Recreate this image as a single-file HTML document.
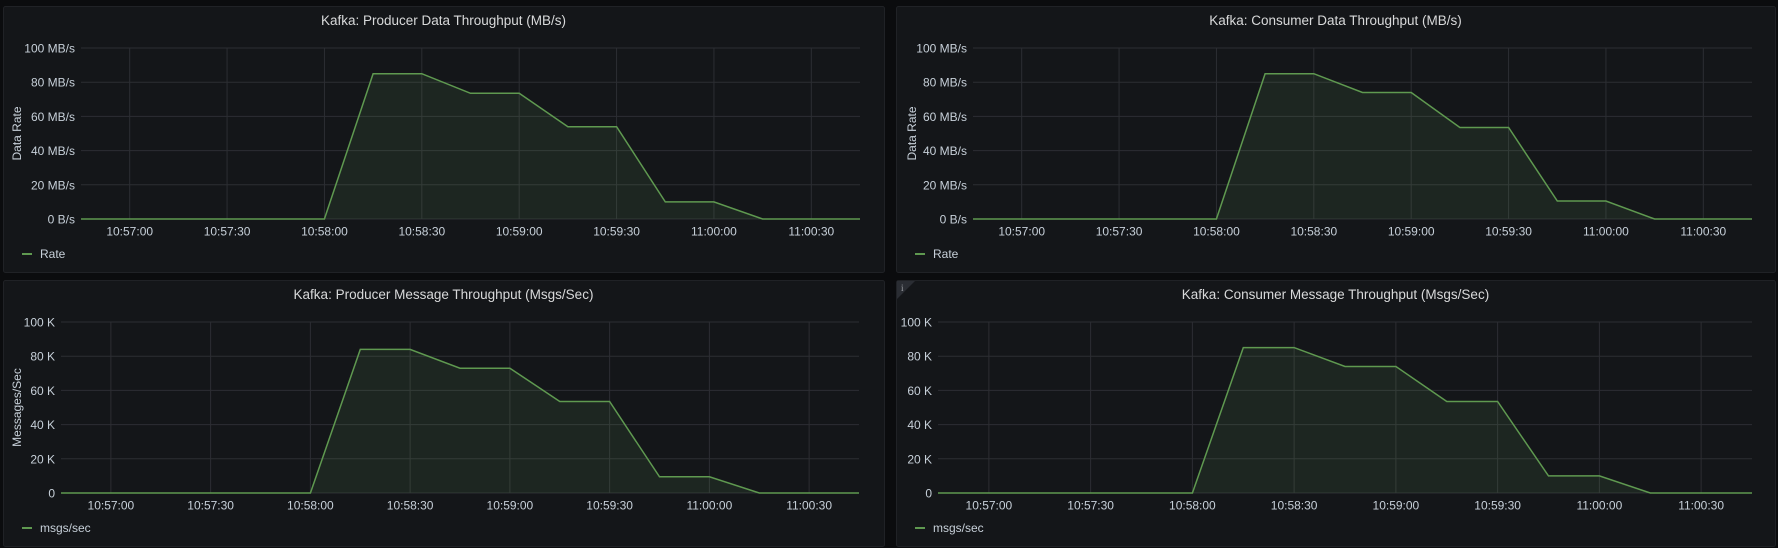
<!DOCTYPE html>
<html><head><meta charset="utf-8">
<style>
html,body{margin:0;padding:0;background:#0b0c0e;width:1778px;height:548px;overflow:hidden;font-family:"Liberation Sans",sans-serif;}
svg{position:absolute;left:0;top:0}
</style></head>
<body>
<svg id="root" width="1778" height="548"></svg>
<script>
const timeTicks = ["10:57:00","10:57:30","10:58:00","10:58:30","10:59:00","10:59:30","11:00:00","11:00:30"];
const pointSeconds = [0,15,30,45,60,75,90,105,120,135,150,165,180,195,210,225,240];
const producerData = [0,0,0,0,0,0,85,85,73.5,73.5,54,54,10,10,0,0,0];
const consumerData = [0,0,0,0,0,0,85,85,74,74,53.5,53.5,10.5,10.5,0,0,0];
const producerMsgs = [0,0,0,0,0,0,84,84,73,73,53.5,53.5,9.5,9.5,0,0,0];
const consumerMsgs = [0,0,0,0,0,0,85,85,74,74,53.5,53.5,10,10,0,0,0];
const mbTicks = ["0 B/s","20 MB/s","40 MB/s","60 MB/s","80 MB/s","100 MB/s"];
const kTicks = ["0","20 K","40 K","60 K","80 K","100 K"];
const yMax = 100;
const tickFirstSec = 15, tickStepSec = 30, domainSec = 240;

const panels = [
 {name:"producer-data-panel",title:"Kafka: Producer Data Throughput (MB/s)",px:3,py:6,pw:881,ph:266,l:81,r:860,t:48,b:219,ylab:"Data Rate",ylx:17,yt:mbTicks,vals:producerData,leg:"Rate",info:false},
 {name:"consumer-data-panel",title:"Kafka: Consumer Data Throughput (MB/s)",px:896,py:6,pw:879,ph:266,l:973,r:1752,t:48,b:219,ylab:"Data Rate",ylx:912,yt:mbTicks,vals:consumerData,leg:"Rate",info:false},
 {name:"producer-message-panel",title:"Kafka: Producer Message Throughput (Msgs/Sec)",px:3,py:280,pw:881,ph:266,l:61,r:859,t:322,b:493,ylab:"Messages/Sec",ylx:17,yt:kTicks,vals:producerMsgs,leg:"msgs/sec",info:false},
 {name:"consumer-message-panel",title:"Kafka: Consumer Message Throughput (Msgs/Sec)",px:896,py:280,pw:879,ph:266,l:938,r:1752,t:322,b:493,ylab:null,yt:kTicks,vals:consumerMsgs,leg:"msgs/sec",info:true}
];
const NS="http://www.w3.org/2000/svg";
const root=document.getElementById('root');
function mk(tag,attrs,parent,text){const e=document.createElementNS(NS,tag);for(const k in attrs)e.setAttribute(k,attrs[k]);if(text!==undefined)e.textContent=text;parent.appendChild(e);return e;}
panels.forEach(p=>{
 const g=mk('g',{},root);
 
 
 mk('rect',{x:p.px+0.5,y:p.py+0.5,width:p.pw,height:p.ph,rx:2,fill:'#141619',stroke:'#202226'},g);
 const ti=mk('text',{x:p.px+p.pw/2,y:p.py+19,'text-anchor':'middle',fill:'#d8d9da','font-size':'13.5'},g,p.title);
 
 
 if(p.info){const c=mk('path',{d:`M${p.px+1} ${p.py+1} h18 l-18 18 z`,fill:'#2a2d33'},g);mk('text',{x:p.px+5,y:p.py+11,fill:'#9fa1a6','font-size':'9','font-family':'Liberation Serif'},g,'i');}
 const xs=s=>p.l+(p.r-p.l)*s/domainSec;
 const ys=v=>p.b-(p.b-p.t)*v/yMax;
 p.yt.forEach((lab,i)=>{const v=i*20,y=ys(v);
  const gl=mk('line',{x1:p.l,x2:p.r,y1:y,y2:y,stroke:'#2c2e33','stroke-width':1},g);
  
  
  const tl=mk('text',{x:p.l-6,y:y+4.5,'text-anchor':'end',fill:'#c7d0d9','font-size':'12'},g,lab);
  
  });
 timeTicks.forEach((lab,i)=>{const x=xs(tickFirstSec+i*tickStepSec);
  const gl=mk('line',{x1:x,x2:x,y1:p.t,y2:p.b,stroke:'#2c2e33','stroke-width':1},g);
  
  
  const tl=mk('text',{x:x,y:p.b+16.5,'text-anchor':'middle',fill:'#c7d0d9','font-size':'12'},g,lab);
  
  });
 if(p.ylab){const yl=mk('text',{x:p.ylx,y:(p.t+p.b)/2,'text-anchor':'middle',fill:'#c7d0d9','font-size':'12',transform:`rotate(-90 ${p.ylx} ${(p.t+p.b)/2})`,dy:4},g,p.ylab);
  
  }
 const pts=pointSeconds.map((s,i)=>[xs(s),ys(p.vals[i])]);
 const line=pts.map((q,i)=>(i?'L':'M')+q[0].toFixed(1)+' '+q[1].toFixed(1)).join(' ');
 const area=mk('path',{d:line+` L${p.r} ${p.b} L${p.l} ${p.b} Z`,fill:'rgba(115,191,105,0.1)'},g);
 
 
 const ln=mk('path',{d:line,fill:'none',stroke:'#5f9950','stroke-width':1.5},g);
 
 
 const lg=mk('g',{},g);
 
 
 const ly=p.py+p.ph-18;
 mk('line',{x1:p.px+19,x2:p.px+29,y1:ly,y2:ly,stroke:'#5f9950','stroke-width':2},lg);
 mk('text',{x:p.px+37,y:ly+4,fill:'#c7d0d9','font-size':'12'},lg,p.leg);
});
</script>
</body></html>
